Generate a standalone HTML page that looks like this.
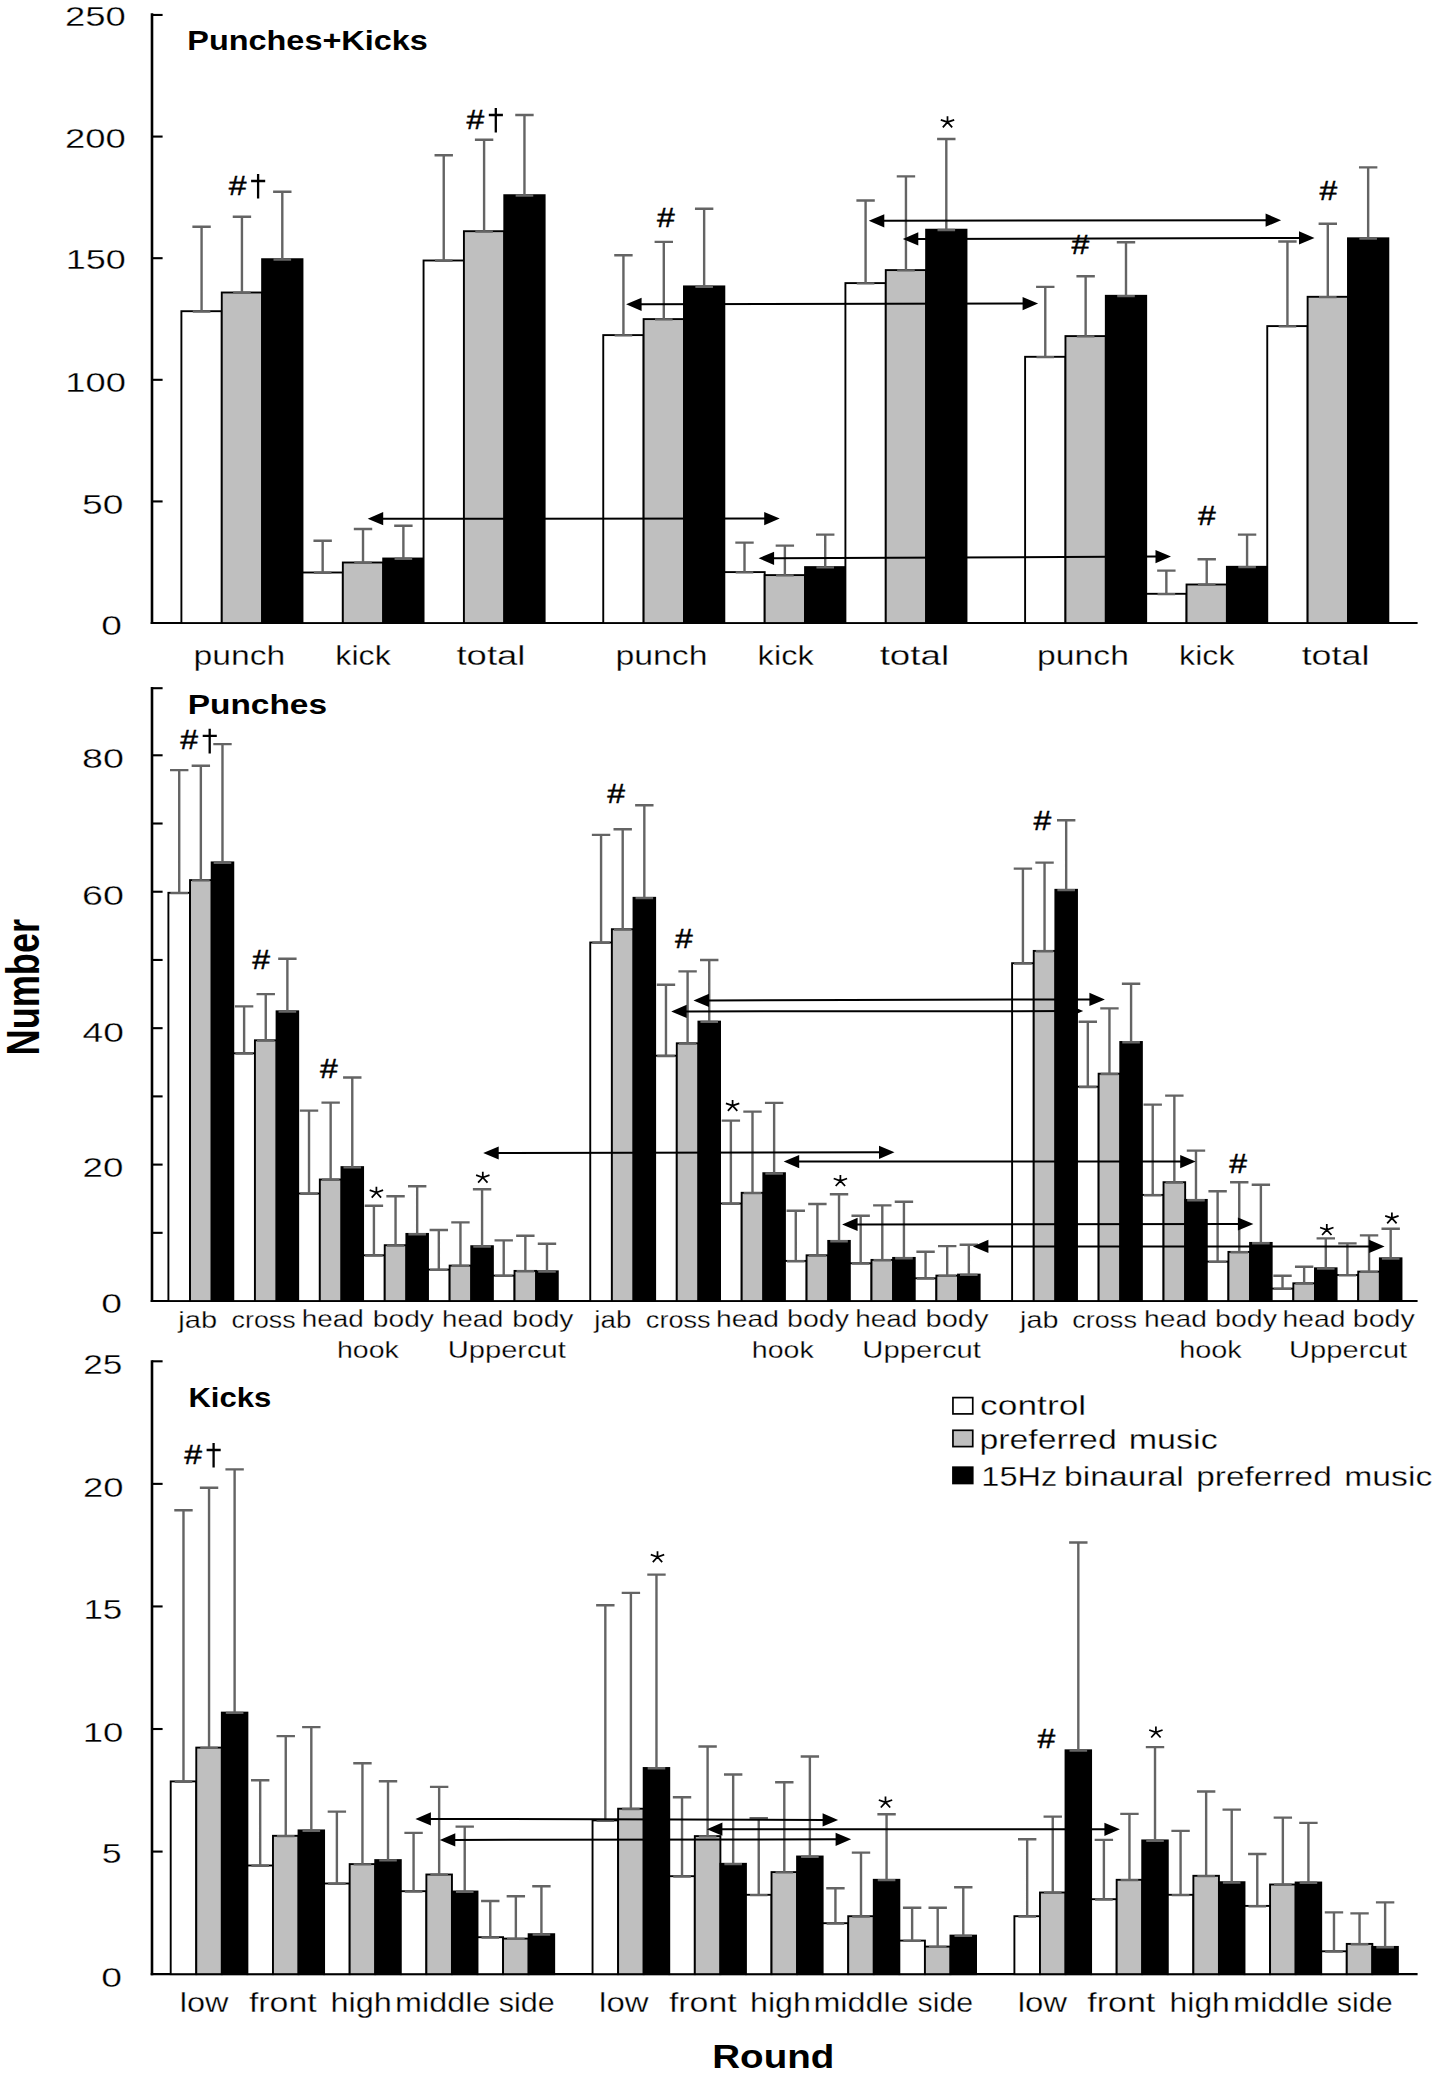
<!DOCTYPE html>
<html><head><meta charset="utf-8"><title>Figure</title>
<style>html,body{margin:0;padding:0;background:#fff}svg{display:block}text{font-family:"Liberation Sans",sans-serif}</style></head>
<body>
<svg width="1438" height="2076" viewBox="0 0 1438 2076" font-family="'Liberation Sans', sans-serif" shape-rendering="geometricPrecision">
<rect width="1438" height="2076" fill="#fff"/>
<path d="M152.0,13.30 V624.05" stroke="#000" stroke-width="2.6" fill="none"/>
<path d="M150.70,623.05 H1417.6" stroke="#000" stroke-width="2.1" fill="none"/>
<path d="M152.0,501.43 h10.6" stroke="#000" stroke-width="2.1" fill="none"/>
<path d="M152.0,379.81 h10.6" stroke="#000" stroke-width="2.1" fill="none"/>
<path d="M152.0,258.19 h10.6" stroke="#000" stroke-width="2.1" fill="none"/>
<path d="M152.0,136.57 h10.6" stroke="#000" stroke-width="2.1" fill="none"/>
<path d="M152.0,14.95 h10.6" stroke="#000" stroke-width="2.1" fill="none"/>
<g stroke="#000" stroke-width="1.9"><rect x="181.40" y="311.20" width="40.36" height="311.85" fill="#fff"/><rect x="221.76" y="292.50" width="40.36" height="330.55" fill="#bfbfbf"/><rect x="262.12" y="259.20" width="40.36" height="363.85" fill="#000"/><rect x="302.48" y="572.50" width="40.36" height="50.55" fill="#fff"/><rect x="342.84" y="562.50" width="40.36" height="60.55" fill="#bfbfbf"/><rect x="383.20" y="558.50" width="40.36" height="64.55" fill="#000"/><rect x="423.56" y="260.50" width="40.36" height="362.55" fill="#fff"/><rect x="463.92" y="231.20" width="40.36" height="391.85" fill="#bfbfbf"/><rect x="504.28" y="195.20" width="40.36" height="427.85" fill="#000"/><rect x="603.25" y="335.10" width="40.36" height="287.95" fill="#fff"/><rect x="643.61" y="319.10" width="40.36" height="303.95" fill="#bfbfbf"/><rect x="683.97" y="286.40" width="40.36" height="336.65" fill="#000"/><rect x="724.33" y="572.10" width="40.36" height="50.95" fill="#fff"/><rect x="764.69" y="575.10" width="40.36" height="47.95" fill="#bfbfbf"/><rect x="805.05" y="567.10" width="40.36" height="55.95" fill="#000"/><rect x="845.41" y="283.10" width="40.36" height="339.95" fill="#fff"/><rect x="885.77" y="270.10" width="40.36" height="352.95" fill="#bfbfbf"/><rect x="926.13" y="229.70" width="40.36" height="393.35" fill="#000"/><rect x="1025.10" y="356.80" width="40.36" height="266.25" fill="#fff"/><rect x="1065.46" y="336.10" width="40.36" height="286.95" fill="#bfbfbf"/><rect x="1105.82" y="295.80" width="40.36" height="327.25" fill="#000"/><rect x="1146.18" y="593.80" width="40.36" height="29.25" fill="#fff"/><rect x="1186.54" y="584.50" width="40.36" height="38.55" fill="#bfbfbf"/><rect x="1226.90" y="566.80" width="40.36" height="56.25" fill="#000"/><rect x="1267.26" y="326.10" width="40.36" height="296.95" fill="#fff"/><rect x="1307.62" y="296.80" width="40.36" height="326.25" fill="#bfbfbf"/><rect x="1347.98" y="238.30" width="40.36" height="384.75" fill="#000"/></g>
<path d="M201.58,311.20 V226.70 M192.38,226.70 h18.4 M192.78,311.50 h17.6 M241.94,292.50 V216.70 M232.74,216.70 h18.4 M233.14,292.80 h17.6 M282.30,259.20 V191.70 M273.10,191.70 h18.4 M273.50,259.50 h17.6 M322.66,572.50 V540.70 M313.46,540.70 h18.4 M313.86,572.80 h17.6 M363.02,562.50 V529.00 M353.82,529.00 h18.4 M354.22,562.80 h17.6 M403.38,558.50 V525.70 M394.18,525.70 h18.4 M394.58,558.80 h17.6 M443.74,260.50 V155.30 M434.54,155.30 h18.4 M434.94,260.80 h17.6 M484.10,231.20 V139.70 M474.90,139.70 h18.4 M475.30,231.50 h17.6 M524.46,195.20 V115.00 M515.26,115.00 h18.4 M515.66,195.50 h17.6 M623.43,335.10 V255.20 M614.23,255.20 h18.4 M614.63,335.40 h17.6 M663.79,319.10 V241.90 M654.59,241.90 h18.4 M654.99,319.40 h17.6 M704.15,286.40 V208.80 M694.95,208.80 h18.4 M695.35,286.70 h17.6 M744.51,572.10 V542.60 M735.31,542.60 h18.4 M735.71,572.40 h17.6 M784.87,575.10 V545.60 M775.67,545.60 h18.4 M776.07,575.40 h17.6 M825.23,567.10 V534.60 M816.03,534.60 h18.4 M816.43,567.40 h17.6 M865.59,283.10 V200.50 M856.39,200.50 h18.4 M856.79,283.40 h17.6 M905.95,270.10 V176.40 M896.75,176.40 h18.4 M897.15,270.40 h17.6 M946.31,229.70 V139.00 M937.11,139.00 h18.4 M937.51,230.00 h17.6 M1045.28,356.80 V286.90 M1036.08,286.90 h18.4 M1036.48,357.10 h17.6 M1085.64,336.10 V276.20 M1076.44,276.20 h18.4 M1076.84,336.40 h17.6 M1126.00,295.80 V242.20 M1116.80,242.20 h18.4 M1117.20,296.10 h17.6 M1166.36,593.80 V570.60 M1157.16,570.60 h18.4 M1157.56,594.10 h17.6 M1206.72,584.50 V559.30 M1197.52,559.30 h18.4 M1197.92,584.80 h17.6 M1247.08,566.80 V534.60 M1237.88,534.60 h18.4 M1238.28,567.10 h17.6 M1287.44,326.10 V241.50 M1278.24,241.50 h18.4 M1278.64,326.40 h17.6 M1327.80,296.80 V223.80 M1318.60,223.80 h18.4 M1319.00,297.10 h17.6 M1368.16,238.30 V167.40 M1358.96,167.40 h18.4 M1359.36,238.60 h17.6" stroke="#646464" stroke-width="2.4" fill="none"/>
<path d="M382.20,518.70 L765.20,518.60" stroke="#000" stroke-width="2.0" fill="none"/>
<path d="M367.70,518.70 l15.5,-6.6 v13.2 z M779.70,518.60 l-15.5,-6.6 v13.2 z" fill="#000"/>
<path d="M773.10,558.30 L1156.50,556.60" stroke="#000" stroke-width="2.0" fill="none"/>
<path d="M758.60,558.30 l15.5,-6.6 v13.2 z M1171.00,556.60 l-15.5,-6.6 v13.2 z" fill="#000"/>
<path d="M640.60,304.30 L1023.60,303.60" stroke="#000" stroke-width="2.0" fill="none"/>
<path d="M626.10,304.30 l15.5,-6.6 v13.2 z M1038.10,303.60 l-15.5,-6.6 v13.2 z" fill="#000"/>
<path d="M883.30,220.80 L1266.60,220.20" stroke="#000" stroke-width="2.0" fill="none"/>
<path d="M868.80,220.80 l15.5,-6.6 v13.2 z M1281.10,220.20 l-15.5,-6.6 v13.2 z" fill="#000"/>
<path d="M917.30,238.90 L1300.00,237.90" stroke="#000" stroke-width="2.0" fill="none"/>
<path d="M902.80,238.90 l15.5,-6.6 v13.2 z M1314.50,237.90 l-15.5,-6.6 v13.2 z" fill="#000"/>
<text transform="translate(228.74,194.60) scale(1.1666,1)" font-size="27.4" fill="#000" stroke="#000" stroke-width="0.45">#</text>
<path d="M258.10,174.00 V198.60 M251.10,181.00 H265.20" stroke="#000" stroke-width="2.3" fill="none"/>
<text transform="translate(466.44,128.60) scale(1.1666,1)" font-size="27.4" fill="#000" stroke="#000" stroke-width="0.45">#</text>
<path d="M495.80,108.00 V132.60 M488.80,115.00 H502.90" stroke="#000" stroke-width="2.3" fill="none"/>
<text transform="translate(657.04,226.80) scale(1.1666,1)" font-size="27.4" fill="#000" stroke="#000" stroke-width="0.45">#</text>
<path d="M947.50,122.10 v-5.8 M947.50,122.10 l-6.7,-2.3 M947.50,122.10 l6.7,-2.3 M947.50,122.10 l-4.7,5.2 M947.50,122.10 l4.7,5.2" stroke="#000" stroke-width="1.75" fill="none"/>
<text transform="translate(1071.44,253.50) scale(1.1666,1)" font-size="27.4" fill="#000" stroke="#000" stroke-width="0.45">#</text>
<text transform="translate(1197.94,524.60) scale(1.1666,1)" font-size="27.4" fill="#000" stroke="#000" stroke-width="0.45">#</text>
<text transform="translate(1319.54,200.10) scale(1.1666,1)" font-size="27.4" fill="#000" stroke="#000" stroke-width="0.45">#</text>
<text transform="translate(65.08,26.00) scale(1.2928,1)" font-size="28.2" fill="#000" stroke="#fff" stroke-width="0.3">250</text>
<text transform="translate(65.08,148.40) scale(1.2928,1)" font-size="28.2" fill="#000" stroke="#fff" stroke-width="0.3">200</text>
<text transform="translate(65.80,269.30) scale(1.2771,1)" font-size="28.2" fill="#000" stroke="#fff" stroke-width="0.3">150</text>
<text transform="translate(65.27,391.80) scale(1.2885,1)" font-size="28.2" fill="#000" stroke="#fff" stroke-width="0.3">100</text>
<text transform="translate(82.11,513.90) scale(1.3188,1)" font-size="28.2" fill="#000" stroke="#fff" stroke-width="0.3">50</text>
<text transform="translate(101.22,635.40) scale(1.3145,1)" font-size="28.2" fill="#000" stroke="#fff" stroke-width="0.3">0</text>
<text transform="translate(187.31,50.00) scale(1.1417,1)" font-size="28.4" font-weight="bold" fill="#000">Punches+Kicks</text>
<text transform="translate(193.41,664.60) scale(1.2259,1)" font-size="27.5" fill="#000" stroke="#fff" stroke-width="0.3">punch</text>
<text transform="translate(335.33,664.60) scale(1.1711,1)" font-size="27.5" fill="#000" stroke="#fff" stroke-width="0.3">kick</text>
<text transform="translate(456.45,664.60) scale(1.3278,1)" font-size="27.5" fill="#000" stroke="#fff" stroke-width="0.3">total</text>
<text transform="translate(615.40,664.60) scale(1.2301,1)" font-size="27.5" fill="#000" stroke="#fff" stroke-width="0.3">punch</text>
<text transform="translate(757.60,664.60) scale(1.1865,1)" font-size="27.5" fill="#000" stroke="#fff" stroke-width="0.3">kick</text>
<text transform="translate(879.65,664.60) scale(1.3358,1)" font-size="27.5" fill="#000" stroke="#fff" stroke-width="0.3">total</text>
<text transform="translate(1037.11,664.60) scale(1.2259,1)" font-size="27.5" fill="#000" stroke="#fff" stroke-width="0.3">punch</text>
<text transform="translate(1179.03,664.60) scale(1.1711,1)" font-size="27.5" fill="#000" stroke="#fff" stroke-width="0.3">kick</text>
<text transform="translate(1301.66,664.60) scale(1.3037,1)" font-size="27.5" fill="#000" stroke="#fff" stroke-width="0.3">total</text>
<path d="M152.0,687.10 V1302.05" stroke="#000" stroke-width="2.6" fill="none"/>
<path d="M150.70,1301.05 H1417.6" stroke="#000" stroke-width="2.1" fill="none"/>
<path d="M152.0,1232.83 h10.6" stroke="#000" stroke-width="2.1" fill="none"/>
<path d="M152.0,1164.61 h10.6" stroke="#000" stroke-width="2.1" fill="none"/>
<path d="M152.0,1096.39 h10.6" stroke="#000" stroke-width="2.1" fill="none"/>
<path d="M152.0,1028.17 h10.6" stroke="#000" stroke-width="2.1" fill="none"/>
<path d="M152.0,959.95 h10.6" stroke="#000" stroke-width="2.1" fill="none"/>
<path d="M152.0,891.73 h10.6" stroke="#000" stroke-width="2.1" fill="none"/>
<path d="M152.0,823.51 h10.6" stroke="#000" stroke-width="2.1" fill="none"/>
<path d="M152.0,755.29 h10.6" stroke="#000" stroke-width="2.1" fill="none"/>
<path d="M152.0,688.20 h10.6" stroke="#000" stroke-width="2.1" fill="none"/>
<g stroke="#000" stroke-width="1.9"><rect x="168.40" y="892.80" width="21.63" height="408.25" fill="#fff"/><rect x="190.03" y="880.10" width="21.63" height="420.95" fill="#bfbfbf"/><rect x="211.67" y="862.40" width="21.63" height="438.65" fill="#000"/><rect x="233.30" y="1053.30" width="21.63" height="247.75" fill="#fff"/><rect x="254.93" y="1040.30" width="21.63" height="260.75" fill="#bfbfbf"/><rect x="276.57" y="1011.30" width="21.63" height="289.75" fill="#000"/><rect x="298.20" y="1193.50" width="21.63" height="107.55" fill="#fff"/><rect x="319.83" y="1179.50" width="21.63" height="121.55" fill="#bfbfbf"/><rect x="341.47" y="1167.10" width="21.63" height="133.95" fill="#000"/><rect x="363.10" y="1255.30" width="21.63" height="45.75" fill="#fff"/><rect x="384.73" y="1245.20" width="21.63" height="55.85" fill="#bfbfbf"/><rect x="406.37" y="1233.90" width="21.63" height="67.15" fill="#000"/><rect x="428.00" y="1269.60" width="21.63" height="31.45" fill="#fff"/><rect x="449.63" y="1265.60" width="21.63" height="35.45" fill="#bfbfbf"/><rect x="471.27" y="1246.20" width="21.63" height="54.85" fill="#000"/><rect x="492.90" y="1275.60" width="21.63" height="25.45" fill="#fff"/><rect x="514.53" y="1270.90" width="21.63" height="30.15" fill="#bfbfbf"/><rect x="536.17" y="1271.30" width="21.63" height="29.75" fill="#000"/><rect x="590.25" y="942.50" width="21.63" height="358.55" fill="#fff"/><rect x="611.88" y="929.20" width="21.63" height="371.85" fill="#bfbfbf"/><rect x="633.52" y="897.80" width="21.63" height="403.25" fill="#000"/><rect x="655.15" y="1055.70" width="21.63" height="245.35" fill="#fff"/><rect x="676.78" y="1043.30" width="21.63" height="257.75" fill="#bfbfbf"/><rect x="698.42" y="1021.60" width="21.63" height="279.45" fill="#000"/><rect x="720.05" y="1203.50" width="21.63" height="97.55" fill="#fff"/><rect x="741.68" y="1192.80" width="21.63" height="108.25" fill="#bfbfbf"/><rect x="763.32" y="1173.20" width="21.63" height="127.85" fill="#000"/><rect x="784.95" y="1260.90" width="21.63" height="40.15" fill="#fff"/><rect x="806.58" y="1255.30" width="21.63" height="45.75" fill="#bfbfbf"/><rect x="828.22" y="1240.90" width="21.63" height="60.15" fill="#000"/><rect x="849.85" y="1263.30" width="21.63" height="37.75" fill="#fff"/><rect x="871.48" y="1259.90" width="21.63" height="41.15" fill="#bfbfbf"/><rect x="893.12" y="1257.90" width="21.63" height="43.15" fill="#000"/><rect x="914.75" y="1278.30" width="21.63" height="22.75" fill="#fff"/><rect x="936.38" y="1275.60" width="21.63" height="25.45" fill="#bfbfbf"/><rect x="958.02" y="1274.60" width="21.63" height="26.45" fill="#000"/><rect x="1012.10" y="963.20" width="21.63" height="337.85" fill="#fff"/><rect x="1033.73" y="950.90" width="21.63" height="350.15" fill="#bfbfbf"/><rect x="1055.37" y="889.80" width="21.63" height="411.25" fill="#000"/><rect x="1077.00" y="1086.70" width="21.63" height="214.35" fill="#fff"/><rect x="1098.63" y="1073.70" width="21.63" height="227.35" fill="#bfbfbf"/><rect x="1120.27" y="1042.00" width="21.63" height="259.05" fill="#000"/><rect x="1141.90" y="1194.90" width="21.63" height="106.15" fill="#fff"/><rect x="1163.53" y="1182.20" width="21.63" height="118.85" fill="#bfbfbf"/><rect x="1185.17" y="1199.90" width="21.63" height="101.15" fill="#000"/><rect x="1206.80" y="1261.60" width="21.63" height="39.45" fill="#fff"/><rect x="1228.43" y="1251.90" width="21.63" height="49.15" fill="#bfbfbf"/><rect x="1250.07" y="1242.90" width="21.63" height="58.15" fill="#000"/><rect x="1271.70" y="1288.60" width="21.63" height="12.45" fill="#fff"/><rect x="1293.33" y="1283.30" width="21.63" height="17.75" fill="#bfbfbf"/><rect x="1314.97" y="1268.30" width="21.63" height="32.75" fill="#000"/><rect x="1336.60" y="1275.00" width="21.63" height="26.05" fill="#fff"/><rect x="1358.23" y="1271.60" width="21.63" height="29.45" fill="#bfbfbf"/><rect x="1379.87" y="1258.30" width="21.63" height="42.75" fill="#000"/></g>
<path d="M179.22,892.80 V770.10 M170.02,770.10 h18.4 M170.42,893.10 h17.6 M200.85,880.10 V765.80 M191.65,765.80 h18.4 M192.05,880.40 h17.6 M222.48,862.40 V744.10 M213.28,744.10 h18.4 M213.68,862.70 h17.6 M244.12,1053.30 V1006.40 M234.92,1006.40 h18.4 M235.32,1053.60 h17.6 M265.75,1040.30 V994.10 M256.55,994.10 h18.4 M256.95,1040.60 h17.6 M287.38,1011.30 V958.70 M278.18,958.70 h18.4 M278.58,1011.60 h17.6 M309.02,1193.50 V1110.60 M299.82,1110.60 h18.4 M300.22,1193.80 h17.6 M330.65,1179.50 V1102.60 M321.45,1102.60 h18.4 M321.85,1179.80 h17.6 M352.28,1167.10 V1077.50 M343.08,1077.50 h18.4 M343.48,1167.40 h17.6 M373.92,1255.30 V1205.70 M364.72,1205.70 h18.4 M365.12,1255.60 h17.6 M395.55,1245.20 V1196.30 M386.35,1196.30 h18.4 M386.75,1245.50 h17.6 M417.18,1233.90 V1186.30 M407.98,1186.30 h18.4 M408.38,1234.20 h17.6 M438.82,1269.60 V1230.00 M429.62,1230.00 h18.4 M430.02,1269.90 h17.6 M460.45,1265.60 V1222.40 M451.25,1222.40 h18.4 M451.65,1265.90 h17.6 M482.08,1246.20 V1189.30 M472.88,1189.30 h18.4 M473.28,1246.50 h17.6 M503.72,1275.60 V1240.40 M494.52,1240.40 h18.4 M494.92,1275.90 h17.6 M525.35,1270.90 V1235.70 M516.15,1235.70 h18.4 M516.55,1271.20 h17.6 M546.98,1271.30 V1243.70 M537.78,1243.70 h18.4 M538.18,1271.60 h17.6 M601.07,942.50 V834.90 M591.87,834.90 h18.4 M592.27,942.80 h17.6 M622.70,929.20 V829.20 M613.50,829.20 h18.4 M613.90,929.50 h17.6 M644.33,897.80 V805.20 M635.13,805.20 h18.4 M635.53,898.10 h17.6 M665.97,1055.70 V984.70 M656.77,984.70 h18.4 M657.17,1056.00 h17.6 M687.60,1043.30 V971.40 M678.40,971.40 h18.4 M678.80,1043.60 h17.6 M709.23,1021.60 V960.00 M700.03,960.00 h18.4 M700.43,1021.90 h17.6 M730.87,1203.50 V1120.60 M721.67,1120.60 h18.4 M722.07,1203.80 h17.6 M752.50,1192.80 V1111.60 M743.30,1111.60 h18.4 M743.70,1193.10 h17.6 M774.13,1173.20 V1102.90 M764.93,1102.90 h18.4 M765.33,1173.50 h17.6 M795.77,1260.90 V1210.70 M786.57,1210.70 h18.4 M786.97,1261.20 h17.6 M817.40,1255.30 V1204.00 M808.20,1204.00 h18.4 M808.60,1255.60 h17.6 M839.03,1240.90 V1194.30 M829.83,1194.30 h18.4 M830.23,1241.20 h17.6 M860.67,1263.30 V1215.70 M851.47,1215.70 h18.4 M851.87,1263.60 h17.6 M882.30,1259.90 V1205.40 M873.10,1205.40 h18.4 M873.50,1260.20 h17.6 M903.93,1257.90 V1201.70 M894.73,1201.70 h18.4 M895.13,1258.20 h17.6 M925.57,1278.30 V1251.80 M916.37,1251.80 h18.4 M916.77,1278.60 h17.6 M947.20,1275.60 V1246.10 M938.00,1246.10 h18.4 M938.40,1275.90 h17.6 M968.83,1274.60 V1244.70 M959.63,1244.70 h18.4 M960.03,1274.90 h17.6 M1022.92,963.20 V868.60 M1013.72,868.60 h18.4 M1014.12,963.50 h17.6 M1044.55,950.90 V862.60 M1035.35,862.60 h18.4 M1035.75,951.20 h17.6 M1066.18,889.80 V820.20 M1056.98,820.20 h18.4 M1057.38,890.10 h17.6 M1087.82,1086.70 V1021.80 M1078.62,1021.80 h18.4 M1079.02,1087.00 h17.6 M1109.45,1073.70 V1008.40 M1100.25,1008.40 h18.4 M1100.65,1074.00 h17.6 M1131.08,1042.00 V983.70 M1121.88,983.70 h18.4 M1122.28,1042.30 h17.6 M1152.72,1194.90 V1104.60 M1143.52,1104.60 h18.4 M1143.92,1195.20 h17.6 M1174.35,1182.20 V1095.60 M1165.15,1095.60 h18.4 M1165.55,1182.50 h17.6 M1195.98,1199.90 V1150.60 M1186.78,1150.60 h18.4 M1187.18,1200.20 h17.6 M1217.62,1261.60 V1191.30 M1208.42,1191.30 h18.4 M1208.82,1261.90 h17.6 M1239.25,1251.90 V1182.30 M1230.05,1182.30 h18.4 M1230.45,1252.20 h17.6 M1260.88,1242.90 V1184.70 M1251.68,1184.70 h18.4 M1252.08,1243.20 h17.6 M1282.52,1288.60 V1275.80 M1273.32,1275.80 h18.4 M1273.72,1288.90 h17.6 M1304.15,1283.30 V1266.80 M1294.95,1266.80 h18.4 M1295.35,1283.60 h17.6 M1325.78,1268.30 V1238.40 M1316.58,1238.40 h18.4 M1316.98,1268.60 h17.6 M1347.42,1275.00 V1243.40 M1338.22,1243.40 h18.4 M1338.62,1275.30 h17.6 M1369.05,1271.60 V1235.40 M1359.85,1235.40 h18.4 M1360.25,1271.90 h17.6 M1390.68,1258.30 V1228.70 M1381.48,1228.70 h18.4 M1381.88,1258.60 h17.6" stroke="#646464" stroke-width="2.4" fill="none"/>
<path d="M497.70,1153.00 L880.00,1152.30" stroke="#000" stroke-width="2.0" fill="none"/>
<path d="M483.20,1153.00 l15.5,-6.6 v13.2 z M894.50,1152.30 l-15.5,-6.6 v13.2 z" fill="#000"/>
<path d="M708.00,1000.40 L1090.40,999.40" stroke="#000" stroke-width="2.0" fill="none"/>
<path d="M693.50,1000.40 l15.5,-6.6 v13.2 z M1104.90,999.40 l-15.5,-6.6 v13.2 z" fill="#000"/>
<path d="M685.70,1011.40 L1068.70,1011.10" stroke="#000" stroke-width="2.0" fill="none"/>
<path d="M671.20,1011.40 l15.5,-6.6 v13.2 z M1083.20,1011.10 l-15.5,-6.6 v13.2 z" fill="#000"/>
<path d="M798.20,1161.60 L1181.20,1161.60" stroke="#000" stroke-width="2.0" fill="none"/>
<path d="M783.70,1161.60 l15.5,-6.6 v13.2 z M1195.70,1161.60 l-15.5,-6.6 v13.2 z" fill="#000"/>
<path d="M856.60,1224.40 L1238.90,1224.00" stroke="#000" stroke-width="2.0" fill="none"/>
<path d="M842.10,1224.40 l15.5,-6.6 v13.2 z M1253.40,1224.00 l-15.5,-6.6 v13.2 z" fill="#000"/>
<path d="M987.40,1246.40 L1370.10,1246.40" stroke="#000" stroke-width="2.0" fill="none"/>
<path d="M972.90,1246.40 l15.5,-6.6 v13.2 z M1384.60,1246.40 l-15.5,-6.6 v13.2 z" fill="#000"/>
<text transform="translate(180.34,749.40) scale(1.1666,1)" font-size="27.4" fill="#000" stroke="#000" stroke-width="0.45">#</text>
<path d="M209.70,728.80 V753.40 M202.70,735.80 H216.80" stroke="#000" stroke-width="2.3" fill="none"/>
<text transform="translate(252.24,968.70) scale(1.1666,1)" font-size="27.4" fill="#000" stroke="#000" stroke-width="0.45">#</text>
<text transform="translate(320.04,1077.90) scale(1.1666,1)" font-size="27.4" fill="#000" stroke="#000" stroke-width="0.45">#</text>
<path d="M376.40,1192.50 v-5.8 M376.40,1192.50 l-6.7,-2.3 M376.40,1192.50 l6.7,-2.3 M376.40,1192.50 l-4.7,5.2 M376.40,1192.50 l4.7,5.2" stroke="#000" stroke-width="1.75" fill="none"/>
<path d="M482.80,1177.50 v-5.8 M482.80,1177.50 l-6.7,-2.3 M482.80,1177.50 l6.7,-2.3 M482.80,1177.50 l-4.7,5.2 M482.80,1177.50 l4.7,5.2" stroke="#000" stroke-width="1.75" fill="none"/>
<text transform="translate(607.14,802.80) scale(1.1666,1)" font-size="27.4" fill="#000" stroke="#000" stroke-width="0.45">#</text>
<text transform="translate(674.94,948.00) scale(1.1666,1)" font-size="27.4" fill="#000" stroke="#000" stroke-width="0.45">#</text>
<path d="M732.60,1105.70 v-5.8 M732.60,1105.70 l-6.7,-2.3 M732.60,1105.70 l6.7,-2.3 M732.60,1105.70 l-4.7,5.2 M732.60,1105.70 l4.7,5.2" stroke="#000" stroke-width="1.75" fill="none"/>
<path d="M840.40,1180.80 v-5.8 M840.40,1180.80 l-6.7,-2.3 M840.40,1180.80 l6.7,-2.3 M840.40,1180.80 l-4.7,5.2 M840.40,1180.80 l4.7,5.2" stroke="#000" stroke-width="1.75" fill="none"/>
<text transform="translate(1033.54,830.20) scale(1.1666,1)" font-size="27.4" fill="#000" stroke="#000" stroke-width="0.45">#</text>
<text transform="translate(1229.14,1173.30) scale(1.1666,1)" font-size="27.4" fill="#000" stroke="#000" stroke-width="0.45">#</text>
<path d="M1326.80,1229.80 v-5.8 M1326.80,1229.80 l-6.7,-2.3 M1326.80,1229.80 l6.7,-2.3 M1326.80,1229.80 l-4.7,5.2 M1326.80,1229.80 l4.7,5.2" stroke="#000" stroke-width="1.75" fill="none"/>
<path d="M1391.90,1218.20 v-5.8 M1391.90,1218.20 l-6.7,-2.3 M1391.90,1218.20 l6.7,-2.3 M1391.90,1218.20 l-4.7,5.2 M1391.90,1218.20 l4.7,5.2" stroke="#000" stroke-width="1.75" fill="none"/>
<text transform="translate(82.00,768.00) scale(1.3358,1)" font-size="28.2" fill="#000" stroke="#fff" stroke-width="0.3">80</text>
<text transform="translate(82.02,904.70) scale(1.3352,1)" font-size="28.2" fill="#000" stroke="#fff" stroke-width="0.3">60</text>
<text transform="translate(82.46,1041.60) scale(1.3205,1)" font-size="28.2" fill="#000" stroke="#fff" stroke-width="0.3">40</text>
<text transform="translate(82.56,1177.10) scale(1.3040,1)" font-size="28.2" fill="#000" stroke="#fff" stroke-width="0.3">20</text>
<text transform="translate(101.21,1312.90) scale(1.3219,1)" font-size="28.2" fill="#000" stroke="#fff" stroke-width="0.3">0</text>
<text transform="translate(187.74,714.00) scale(1.1769,1)" font-size="28.4" font-weight="bold" fill="#000">Punches</text>
<text transform="translate(178.33,1327.90) scale(1.1769,1)" font-size="24.7" fill="#000" stroke="#fff" stroke-width="0.3">jab</text>
<text transform="translate(231.56,1327.90) scale(1.0855,1)" font-size="24.7" fill="#000" stroke="#fff" stroke-width="0.3">cross</text>
<text transform="translate(301.85,1326.90) scale(1.1293,1)" font-size="24.7" fill="#000" stroke="#fff" stroke-width="0.3">head</text>
<text transform="translate(372.76,1326.90) scale(1.1432,1)" font-size="24.7" fill="#000" stroke="#fff" stroke-width="0.3">body</text>
<text transform="translate(442.07,1326.90) scale(1.1158,1)" font-size="24.7" fill="#000" stroke="#fff" stroke-width="0.3">head</text>
<text transform="translate(512.26,1326.90) scale(1.1432,1)" font-size="24.7" fill="#000" stroke="#fff" stroke-width="0.3">body</text>
<text transform="translate(336.90,1357.90) scale(1.1562,1)" font-size="24.7" fill="#000" stroke="#fff" stroke-width="0.3">hook</text>
<text transform="translate(447.74,1357.90) scale(1.1792,1)" font-size="24.7" fill="#000" stroke="#fff" stroke-width="0.3">Uppercut</text>
<text transform="translate(594.29,1327.90) scale(1.1247,1)" font-size="24.7" fill="#000" stroke="#fff" stroke-width="0.3">jab</text>
<text transform="translate(645.85,1327.90) scale(1.0977,1)" font-size="24.7" fill="#000" stroke="#fff" stroke-width="0.3">cross</text>
<text transform="translate(716.12,1326.90) scale(1.1429,1)" font-size="24.7" fill="#000" stroke="#fff" stroke-width="0.3">head</text>
<text transform="translate(787.05,1326.90) scale(1.1548,1)" font-size="24.7" fill="#000" stroke="#fff" stroke-width="0.3">body</text>
<text transform="translate(855.35,1326.90) scale(1.1293,1)" font-size="24.7" fill="#000" stroke="#fff" stroke-width="0.3">head</text>
<text transform="translate(925.51,1326.90) scale(1.1760,1)" font-size="24.7" fill="#000" stroke="#fff" stroke-width="0.3">body</text>
<text transform="translate(751.80,1357.90) scale(1.1581,1)" font-size="24.7" fill="#000" stroke="#fff" stroke-width="0.3">hook</text>
<text transform="translate(862.33,1357.90) scale(1.1832,1)" font-size="24.7" fill="#000" stroke="#fff" stroke-width="0.3">Uppercut</text>
<text transform="translate(1020.02,1327.90) scale(1.1646,1)" font-size="24.7" fill="#000" stroke="#fff" stroke-width="0.3">jab</text>
<text transform="translate(1072.25,1327.90) scale(1.0960,1)" font-size="24.7" fill="#000" stroke="#fff" stroke-width="0.3">cross</text>
<text transform="translate(1144.12,1326.90) scale(1.1429,1)" font-size="24.7" fill="#000" stroke="#fff" stroke-width="0.3">head</text>
<text transform="translate(1215.04,1326.90) scale(1.1567,1)" font-size="24.7" fill="#000" stroke="#fff" stroke-width="0.3">body</text>
<text transform="translate(1282.62,1326.90) scale(1.1429,1)" font-size="24.7" fill="#000" stroke="#fff" stroke-width="0.3">head</text>
<text transform="translate(1352.84,1326.90) scale(1.1567,1)" font-size="24.7" fill="#000" stroke="#fff" stroke-width="0.3">body</text>
<text transform="translate(1179.18,1357.90) scale(1.1697,1)" font-size="24.7" fill="#000" stroke="#fff" stroke-width="0.3">hook</text>
<text transform="translate(1289.04,1357.90) scale(1.1792,1)" font-size="24.7" fill="#000" stroke="#fff" stroke-width="0.3">Uppercut</text>
<path d="M152.0,1360.20 V1975.15" stroke="#000" stroke-width="2.6" fill="none"/>
<path d="M150.70,1974.15 H1417.6" stroke="#000" stroke-width="2.1" fill="none"/>
<path d="M152.0,1851.58 h10.6" stroke="#000" stroke-width="2.1" fill="none"/>
<path d="M152.0,1729.01 h10.6" stroke="#000" stroke-width="2.1" fill="none"/>
<path d="M152.0,1606.44 h10.6" stroke="#000" stroke-width="2.1" fill="none"/>
<path d="M152.0,1483.87 h10.6" stroke="#000" stroke-width="2.1" fill="none"/>
<path d="M152.0,1361.30 h10.6" stroke="#000" stroke-width="2.1" fill="none"/>
<g stroke="#000" stroke-width="1.9"><rect x="170.70" y="1781.40" width="25.57" height="192.75" fill="#fff"/><rect x="196.27" y="1747.60" width="25.57" height="226.55" fill="#bfbfbf"/><rect x="221.83" y="1712.60" width="25.57" height="261.55" fill="#000"/><rect x="247.40" y="1865.50" width="25.57" height="108.65" fill="#fff"/><rect x="272.97" y="1835.80" width="25.57" height="138.35" fill="#bfbfbf"/><rect x="298.53" y="1830.40" width="25.57" height="143.75" fill="#000"/><rect x="324.10" y="1883.50" width="25.57" height="90.65" fill="#fff"/><rect x="349.67" y="1864.10" width="25.57" height="110.05" fill="#bfbfbf"/><rect x="375.23" y="1860.10" width="25.57" height="114.05" fill="#000"/><rect x="400.80" y="1891.20" width="25.57" height="82.95" fill="#fff"/><rect x="426.37" y="1874.50" width="25.57" height="99.65" fill="#bfbfbf"/><rect x="451.93" y="1891.50" width="25.57" height="82.65" fill="#000"/><rect x="477.50" y="1937.20" width="25.57" height="36.95" fill="#fff"/><rect x="503.07" y="1938.60" width="25.57" height="35.55" fill="#bfbfbf"/><rect x="528.63" y="1934.20" width="25.57" height="39.95" fill="#000"/><rect x="592.55" y="1820.40" width="25.57" height="153.75" fill="#fff"/><rect x="618.12" y="1808.70" width="25.57" height="165.45" fill="#bfbfbf"/><rect x="643.68" y="1768.00" width="25.57" height="206.15" fill="#000"/><rect x="669.25" y="1876.20" width="25.57" height="97.95" fill="#fff"/><rect x="694.82" y="1836.10" width="25.57" height="138.05" fill="#bfbfbf"/><rect x="720.38" y="1863.80" width="25.57" height="110.35" fill="#000"/><rect x="745.95" y="1894.80" width="25.57" height="79.35" fill="#fff"/><rect x="771.52" y="1872.10" width="25.57" height="102.05" fill="#bfbfbf"/><rect x="797.08" y="1856.50" width="25.57" height="117.65" fill="#000"/><rect x="822.65" y="1923.20" width="25.57" height="50.95" fill="#fff"/><rect x="848.22" y="1916.20" width="25.57" height="57.95" fill="#bfbfbf"/><rect x="873.78" y="1879.80" width="25.57" height="94.35" fill="#000"/><rect x="899.35" y="1940.60" width="25.57" height="33.55" fill="#fff"/><rect x="924.92" y="1946.60" width="25.57" height="27.55" fill="#bfbfbf"/><rect x="950.48" y="1935.60" width="25.57" height="38.55" fill="#000"/><rect x="1014.40" y="1916.20" width="25.57" height="57.95" fill="#fff"/><rect x="1039.97" y="1892.50" width="25.57" height="81.65" fill="#bfbfbf"/><rect x="1065.53" y="1750.30" width="25.57" height="223.85" fill="#000"/><rect x="1091.10" y="1899.20" width="25.57" height="74.95" fill="#fff"/><rect x="1116.67" y="1879.80" width="25.57" height="94.35" fill="#bfbfbf"/><rect x="1142.23" y="1840.40" width="25.57" height="133.75" fill="#000"/><rect x="1167.80" y="1894.80" width="25.57" height="79.35" fill="#fff"/><rect x="1193.37" y="1875.80" width="25.57" height="98.35" fill="#bfbfbf"/><rect x="1218.93" y="1882.20" width="25.57" height="91.95" fill="#000"/><rect x="1244.50" y="1905.90" width="25.57" height="68.25" fill="#fff"/><rect x="1270.07" y="1884.50" width="25.57" height="89.65" fill="#bfbfbf"/><rect x="1295.63" y="1882.50" width="25.57" height="91.65" fill="#000"/><rect x="1321.20" y="1951.30" width="25.57" height="22.85" fill="#fff"/><rect x="1346.77" y="1943.90" width="25.57" height="30.25" fill="#bfbfbf"/><rect x="1372.33" y="1946.90" width="25.57" height="27.25" fill="#000"/></g>
<path d="M183.48,1781.40 V1510.20 M174.28,1510.20 h18.4 M174.68,1781.70 h17.6 M209.05,1747.60 V1487.80 M199.85,1487.80 h18.4 M200.25,1747.90 h17.6 M234.62,1712.60 V1469.40 M225.42,1469.40 h18.4 M225.82,1712.90 h17.6 M260.18,1865.50 V1780.20 M250.98,1780.20 h18.4 M251.38,1865.80 h17.6 M285.75,1835.80 V1736.10 M276.55,1736.10 h18.4 M276.95,1836.10 h17.6 M311.32,1830.40 V1727.10 M302.12,1727.10 h18.4 M302.52,1830.70 h17.6 M336.88,1883.50 V1811.60 M327.68,1811.60 h18.4 M328.08,1883.80 h17.6 M362.45,1864.10 V1763.20 M353.25,1763.20 h18.4 M353.65,1864.40 h17.6 M388.02,1860.10 V1781.20 M378.82,1781.20 h18.4 M379.22,1860.40 h17.6 M413.58,1891.20 V1832.90 M404.38,1832.90 h18.4 M404.78,1891.50 h17.6 M439.15,1874.50 V1786.90 M429.95,1786.90 h18.4 M430.35,1874.80 h17.6 M464.72,1891.50 V1826.60 M455.52,1826.60 h18.4 M455.92,1891.80 h17.6 M490.28,1937.20 V1901.00 M481.08,1901.00 h18.4 M481.48,1937.50 h17.6 M515.85,1938.60 V1896.30 M506.65,1896.30 h18.4 M507.05,1938.90 h17.6 M541.42,1934.20 V1886.30 M532.22,1886.30 h18.4 M532.62,1934.50 h17.6 M605.33,1820.40 V1605.30 M596.13,1605.30 h18.4 M596.53,1820.70 h17.6 M630.90,1808.70 V1592.90 M621.70,1592.90 h18.4 M622.10,1809.00 h17.6 M656.47,1768.00 V1574.60 M647.27,1574.60 h18.4 M647.67,1768.30 h17.6 M682.03,1876.20 V1797.20 M672.83,1797.20 h18.4 M673.23,1876.50 h17.6 M707.60,1836.10 V1746.50 M698.40,1746.50 h18.4 M698.80,1836.40 h17.6 M733.17,1863.80 V1774.50 M723.97,1774.50 h18.4 M724.37,1864.10 h17.6 M758.73,1894.80 V1818.20 M749.53,1818.20 h18.4 M749.93,1895.10 h17.6 M784.30,1872.10 V1782.20 M775.10,1782.20 h18.4 M775.50,1872.40 h17.6 M809.87,1856.50 V1756.50 M800.67,1756.50 h18.4 M801.07,1856.80 h17.6 M835.43,1923.20 V1888.30 M826.23,1888.30 h18.4 M826.63,1923.50 h17.6 M861.00,1916.20 V1852.60 M851.80,1852.60 h18.4 M852.20,1916.50 h17.6 M886.57,1879.80 V1814.20 M877.37,1814.20 h18.4 M877.77,1880.10 h17.6 M912.13,1940.60 V1907.70 M902.93,1907.70 h18.4 M903.33,1940.90 h17.6 M937.70,1946.60 V1907.70 M928.50,1907.70 h18.4 M928.90,1946.90 h17.6 M963.27,1935.60 V1887.30 M954.07,1887.30 h18.4 M954.47,1935.90 h17.6 M1027.18,1916.20 V1839.30 M1017.98,1839.30 h18.4 M1018.38,1916.50 h17.6 M1052.75,1892.50 V1816.60 M1043.55,1816.60 h18.4 M1043.95,1892.80 h17.6 M1078.32,1750.30 V1542.50 M1069.12,1542.50 h18.4 M1069.52,1750.60 h17.6 M1103.88,1899.20 V1839.90 M1094.68,1839.90 h18.4 M1095.08,1899.50 h17.6 M1129.45,1879.80 V1813.90 M1120.25,1813.90 h18.4 M1120.65,1880.10 h17.6 M1155.02,1840.40 V1747.10 M1145.82,1747.10 h18.4 M1146.22,1840.70 h17.6 M1180.58,1894.80 V1830.90 M1171.38,1830.90 h18.4 M1171.78,1895.10 h17.6 M1206.15,1875.80 V1791.50 M1196.95,1791.50 h18.4 M1197.35,1876.10 h17.6 M1231.72,1882.20 V1809.60 M1222.52,1809.60 h18.4 M1222.92,1882.50 h17.6 M1257.28,1905.90 V1854.00 M1248.08,1854.00 h18.4 M1248.48,1906.20 h17.6 M1282.85,1884.50 V1817.60 M1273.65,1817.60 h18.4 M1274.05,1884.80 h17.6 M1308.42,1882.50 V1822.90 M1299.22,1822.90 h18.4 M1299.62,1882.80 h17.6 M1333.98,1951.30 V1912.40 M1324.78,1912.40 h18.4 M1325.18,1951.60 h17.6 M1359.55,1943.90 V1913.40 M1350.35,1913.40 h18.4 M1350.75,1944.20 h17.6 M1385.12,1946.90 V1902.40 M1375.92,1902.40 h18.4 M1376.32,1947.20 h17.6" stroke="#646464" stroke-width="2.4" fill="none"/>
<path d="M429.90,1818.90 L823.60,1819.90" stroke="#000" stroke-width="2.0" fill="none"/>
<path d="M415.40,1818.90 l15.5,-6.6 v13.2 z M838.10,1819.90 l-15.5,-6.6 v13.2 z" fill="#000"/>
<path d="M454.30,1839.90 L836.60,1839.30" stroke="#000" stroke-width="2.0" fill="none"/>
<path d="M439.80,1839.90 l15.5,-6.6 v13.2 z M851.10,1839.30 l-15.5,-6.6 v13.2 z" fill="#000"/>
<path d="M721.40,1829.20 L1105.40,1829.30" stroke="#000" stroke-width="2.0" fill="none"/>
<path d="M706.90,1829.20 l15.5,-6.6 v13.2 z M1119.90,1829.30 l-15.5,-6.6 v13.2 z" fill="#000"/>
<text transform="translate(184.24,1463.60) scale(1.1666,1)" font-size="27.4" fill="#000" stroke="#000" stroke-width="0.45">#</text>
<path d="M213.60,1443.00 V1467.60 M206.60,1450.00 H220.70" stroke="#000" stroke-width="2.3" fill="none"/>
<path d="M657.50,1557.00 v-5.8 M657.50,1557.00 l-6.7,-2.3 M657.50,1557.00 l6.7,-2.3 M657.50,1557.00 l-4.7,5.2 M657.50,1557.00 l4.7,5.2" stroke="#000" stroke-width="1.75" fill="none"/>
<path d="M885.50,1802.30 v-5.8 M885.50,1802.30 l-6.7,-2.3 M885.50,1802.30 l6.7,-2.3 M885.50,1802.30 l-4.7,5.2 M885.50,1802.30 l4.7,5.2" stroke="#000" stroke-width="1.75" fill="none"/>
<text transform="translate(1037.54,1748.10) scale(1.1666,1)" font-size="27.4" fill="#000" stroke="#000" stroke-width="0.45">#</text>
<path d="M1155.90,1732.30 v-5.8 M1155.90,1732.30 l-6.7,-2.3 M1155.90,1732.30 l6.7,-2.3 M1155.90,1732.30 l-4.7,5.2 M1155.90,1732.30 l4.7,5.2" stroke="#000" stroke-width="1.75" fill="none"/>
<text transform="translate(83.14,1373.80) scale(1.2481,1)" font-size="28.2" fill="#000" stroke="#fff" stroke-width="0.3">25</text>
<text transform="translate(82.88,1496.80) scale(1.2936,1)" font-size="28.2" fill="#000" stroke="#fff" stroke-width="0.3">20</text>
<text transform="translate(83.38,1618.70) scale(1.2402,1)" font-size="28.2" fill="#000" stroke="#fff" stroke-width="0.3">15</text>
<text transform="translate(82.76,1741.80) scale(1.2976,1)" font-size="28.2" fill="#000" stroke="#fff" stroke-width="0.3">10</text>
<text transform="translate(101.67,1863.40) scale(1.2691,1)" font-size="28.2" fill="#000" stroke="#fff" stroke-width="0.3">5</text>
<text transform="translate(101.21,1986.80) scale(1.3219,1)" font-size="28.2" fill="#000" stroke="#fff" stroke-width="0.3">0</text>
<text transform="translate(188.40,1407.20) scale(1.0935,1)" font-size="28.4" font-weight="bold" fill="#000">Kicks</text>
<text transform="translate(179.81,2012.00) scale(1.1809,1)" font-size="27.5" fill="#000" stroke="#fff" stroke-width="0.3">low</text>
<text transform="translate(248.89,2012.00) scale(1.2320,1)" font-size="27.5" fill="#000" stroke="#fff" stroke-width="0.3">front</text>
<text transform="translate(330.53,2012.00) scale(1.1810,1)" font-size="27.5" fill="#000" stroke="#fff" stroke-width="0.3">high</text>
<text transform="translate(395.12,2012.00) scale(1.1762,1)" font-size="27.5" fill="#000" stroke="#fff" stroke-width="0.3">middle</text>
<text transform="translate(498.86,2012.00) scale(1.1079,1)" font-size="27.5" fill="#000" stroke="#fff" stroke-width="0.3">side</text>
<text transform="translate(599.08,2012.00) scale(1.1986,1)" font-size="27.5" fill="#000" stroke="#fff" stroke-width="0.3">low</text>
<text transform="translate(668.89,2012.00) scale(1.2320,1)" font-size="27.5" fill="#000" stroke="#fff" stroke-width="0.3">front</text>
<text transform="translate(749.94,2012.00) scale(1.1728,1)" font-size="27.5" fill="#000" stroke="#fff" stroke-width="0.3">high</text>
<text transform="translate(813.42,2012.00) scale(1.1762,1)" font-size="27.5" fill="#000" stroke="#fff" stroke-width="0.3">middle</text>
<text transform="translate(917.57,2012.00) scale(1.0997,1)" font-size="27.5" fill="#000" stroke="#fff" stroke-width="0.3">side</text>
<text transform="translate(1017.68,2012.00) scale(1.1986,1)" font-size="27.5" fill="#000" stroke="#fff" stroke-width="0.3">low</text>
<text transform="translate(1087.19,2012.00) scale(1.2376,1)" font-size="27.5" fill="#000" stroke="#fff" stroke-width="0.3">front</text>
<text transform="translate(1169.57,2012.00) scale(1.1603,1)" font-size="27.5" fill="#000" stroke="#fff" stroke-width="0.3">high</text>
<text transform="translate(1233.00,2012.00) scale(1.1852,1)" font-size="27.5" fill="#000" stroke="#fff" stroke-width="0.3">middle</text>
<text transform="translate(1336.86,2012.00) scale(1.1059,1)" font-size="27.5" fill="#000" stroke="#fff" stroke-width="0.3">side</text>
<g stroke="#000" stroke-width="1.7"><rect x="952.95" y="1397.6" width="19.8" height="16.3" fill="#fff"/><rect x="952.95" y="1430.3" width="19.8" height="16.3" fill="#bfbfbf"/><rect x="952.95" y="1467.2" width="19.8" height="16.3" fill="#000"/></g>
<text transform="translate(980.10,1415.30) scale(1.2861,1)" font-size="27.5" fill="#000" stroke="#fff" stroke-width="0.3">control</text>
<text transform="translate(979.40,1448.60) scale(1.2316,1)" font-size="27.5" fill="#000" stroke="#fff" stroke-width="0.3">preferred</text>
<text transform="translate(1128.70,1448.60) scale(1.2393,1)" font-size="27.5" fill="#000" stroke="#fff" stroke-width="0.3">music</text>
<text transform="translate(981.36,1486.30) scale(1.1831,1)" font-size="27.5" fill="#000" stroke="#fff" stroke-width="0.3">15Hz</text>
<text transform="translate(1064.11,1486.30) scale(1.2242,1)" font-size="27.5" fill="#000" stroke="#fff" stroke-width="0.3">binaural</text>
<text transform="translate(1196.23,1486.30) scale(1.2149,1)" font-size="27.5" fill="#000" stroke="#fff" stroke-width="0.3">preferred</text>
<text transform="translate(1344.22,1486.30) scale(1.2263,1)" font-size="27.5" fill="#000" stroke="#fff" stroke-width="0.3">music</text>
<text transform="translate(712.20,2067.80) scale(1.1348,1)" font-size="34.0" font-weight="bold" fill="#000">Round</text>
<text transform="translate(39.3,1055.44) rotate(-90) scale(0.7889,1)" font-size="45.8" font-weight="bold">Number</text>
</svg>
</body></html>
